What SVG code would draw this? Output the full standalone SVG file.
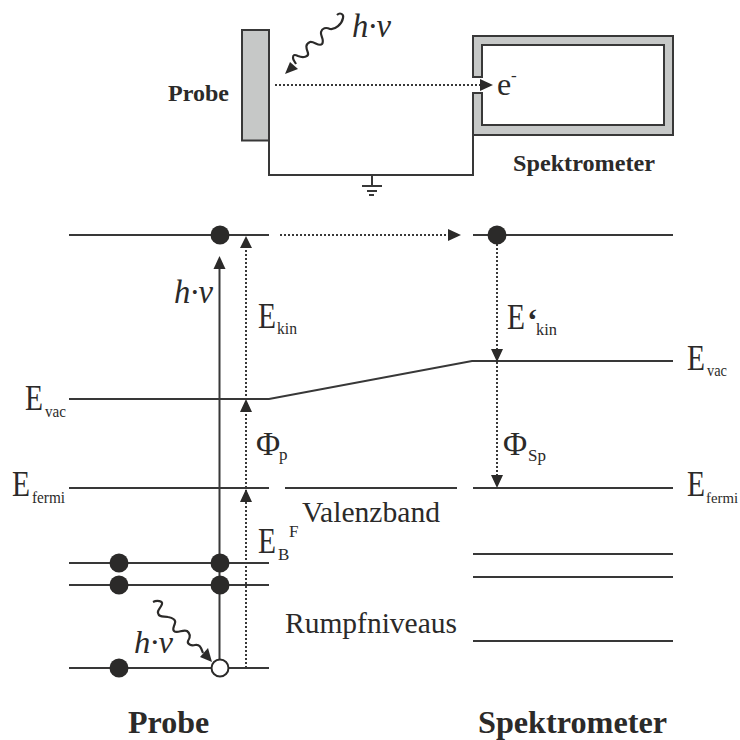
<svg xmlns="http://www.w3.org/2000/svg" width="740" height="740" viewBox="0 0 740 740">
<style>
text{font-family:"Liberation Serif","Times New Roman",serif;fill:#2b2a29}
.b{font-weight:bold}
.i{font-style:italic;font-size:34px}
.m{font-size:35px}
.p{font-size:33px}
.s{font-size:17px}
.n{font-size:30px}
.l{fill:none;stroke:#383838;stroke-width:2}
.d{fill:none;stroke:#383838;stroke-width:2;stroke-dasharray:2 2}
.w{fill:none;stroke:#2b2a29;stroke-width:2.200}
.a{fill:#2b2a29}
.f{fill:#2b2a29}
.o{fill:#fff;stroke:#2b2a29;stroke-width:2}
</style>
<rect width="740" height="740" fill="#fff"/>
<g id="sample"><rect x="242" y="30" width="27" height="110.500" fill="#c6c8c7" stroke="#383838" stroke-width="2"/></g>
<g id="spectrometer"><path d="M473 77V36H673V135H473V93H482V125H664V45H482V77Z" fill="#c6c8c7" stroke="#383838" stroke-width="2"/></g>
<g id="connectors">
<path class="l" d="M269 140V175H473V135"/>
<path class="l" d="M372 175V186M362 186H382M367 191H377"/>
<path d="M369 195H374" stroke="#383838" stroke-width="2"/>
<path class="d" d="M275 85H482"/>
<path class="a" d="M493 85L480 79V91Z"/>
<path class="w" d="M337 15C340 12 344 14 343 18C342 24 335 30 330 29C326 27 322 28 321 32C320 36 325 40 322 44C319 47 314 41 310 42C305 44 306 48 308 53C309 57 303 58 298 56C294 54 293 55 293 58C293 60 295 62 296 64"/>
<path class="a" d="M285 74L290 62L298 69Z"/>
<path class="l" d="M69 235H269M473 235H673M69 399H269L472 361H673M69 488H269M285 488H457M473 488H673M69 563H269M69 585H269M69 668H269M473 554H673M473 577H673M473 641H673"/>
<path class="d" d="M280 235H450"/>
<path class="a" d="M461 235L448 229V241Z"/>
<path class="l" d="M219.500 668V266"/>
<path class="a" d="M219.500 256L213.500 269H225.500Z"/>
<path class="d" d="M246 668V246M497 244V351M497 362V478"/>
<path class="a" d="M246 236L240 248H252ZM246 399L240 412H252ZM246 489L240 502H252ZM497 362L491 349H503ZM497 488L491 475H503Z"/>
<path class="w" d="M153 602C157 600 163 601 162 604C161 608 157 610 158 613C159 618 164 616 168 617C173 618 176 620 175 623C174 627 172 629 174 631C177 634 183 629 187 631C191 634 190 638 188 641C187 644 191 646 195 645C200 644 201 648 203 653"/>
<path class="a" d="M212 662L200 657L208 648Z"/>
</g>
<g id="dots">
<circle class="f" cx="220" cy="235" r="9.500"/>
<circle class="f" cx="497" cy="235" r="9.500"/>
<circle class="f" cx="119" cy="563" r="9.500"/>
<circle class="f" cx="220" cy="563" r="9.500"/>
<circle class="f" cx="119" cy="585" r="9.500"/>
<circle class="f" cx="220" cy="585" r="9.500"/>
<circle class="f" cx="119" cy="668" r="9.500"/>
<circle class="o" cx="220" cy="668" r="8.500"/>
</g>
<g id="labels">
<text class="b" x="168" y="101" font-size="24">Probe</text>
<text class="b" x="513" y="171" font-size="24" textLength="142" lengthAdjust="spacingAndGlyphs">Spektrometer</text>
<text class="i" x="352" y="37" textLength="39" lengthAdjust="spacingAndGlyphs">h·v</text>
<text x="497" y="95" font-size="32">e</text><text x="511" y="81" font-size="17">-</text>
<text class="i" x="174" y="303" textLength="39" lengthAdjust="spacingAndGlyphs">h·v</text>
<text class="i" x="134" y="653" style="font-size:31px" textLength="39" lengthAdjust="spacingAndGlyphs">h·v</text>
<text class="m" x="258" y="328" textLength="18" lengthAdjust="spacingAndGlyphs">E</text><text class="s" x="277" y="334" textLength="20" lengthAdjust="spacingAndGlyphs">kin</text>
<text class="m" x="25" y="410" textLength="18" lengthAdjust="spacingAndGlyphs">E</text><text class="s" x="45" y="417" textLength="21" lengthAdjust="spacingAndGlyphs">vac</text>
<text class="p" x="256" y="455">Φ</text><text class="s" x="279" y="460">p</text>
<text class="m" x="12" y="496" textLength="18" lengthAdjust="spacingAndGlyphs">E</text><text class="s" x="32" y="503" textLength="33" lengthAdjust="spacingAndGlyphs">fermi</text>
<text class="m" x="258" y="553" textLength="18" lengthAdjust="spacingAndGlyphs">E</text><text class="s" x="278" y="560">B</text><text class="s" x="289" y="537">F</text>
<text class="n" x="302" y="522" textLength="138" lengthAdjust="spacingAndGlyphs">Valenzband</text>
<text class="n" x="285" y="633" textLength="172" lengthAdjust="spacingAndGlyphs">Rumpfniveaus</text>
<text class="m" x="507" y="329" textLength="18" lengthAdjust="spacingAndGlyphs">E</text><text class="b" x="527" y="331" font-size="32">‘</text><text class="s" x="536" y="335" textLength="21" lengthAdjust="spacingAndGlyphs">kin</text>
<text class="p" x="503" y="455">Φ</text><text class="s" x="528" y="461">Sp</text>
<text class="m" x="687" y="370" textLength="18" lengthAdjust="spacingAndGlyphs">E</text><text class="s" x="707" y="376" textLength="20" lengthAdjust="spacingAndGlyphs">vac</text>
<text class="m" x="687" y="496" textLength="18" lengthAdjust="spacingAndGlyphs">E</text><text x="706" y="503" font-size="15" textLength="32" lengthAdjust="spacingAndGlyphs">fermi</text>
<text class="b" x="128" y="733" font-size="32">Probe</text>
<text class="b" x="478" y="733" font-size="32" textLength="189" lengthAdjust="spacingAndGlyphs">Spektrometer</text>
</g>
</svg>
